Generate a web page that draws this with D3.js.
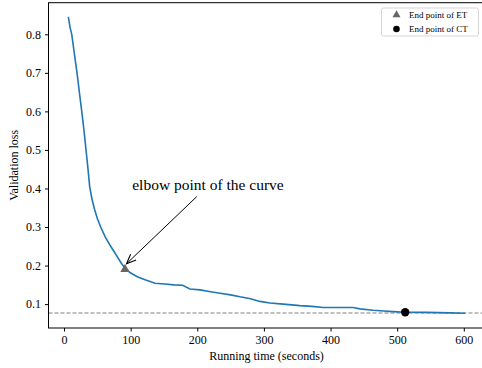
<!DOCTYPE html>
<html>
<head>
<meta charset="utf-8">
<script src="https://cdn.jsdelivr.net/npm/d3@7"></script>
<style>
  body { margin: 0; background: #fff; }
  svg { display: block; font-family: "Liberation Serif", "DejaVu Serif", serif; }
</style>
</head>
<body>
<div class="graph"></div>
<script>
// Data
var runTime = [6.5, 9, 11.6, 15.5, 19.5, 23, 26.6, 30, 33, 36, 38.5, 42, 46, 50, 55, 62, 70, 76, 81, 86, 91.5,
  99, 110, 121.6, 136.6, 151.6, 165, 178, 189, 204, 220, 234, 250, 264, 280, 294, 309, 329, 354,
  372, 389, 410, 434, 444, 464, 480, 494, 512, 544, 579, 602];
var valLoss = [0.845, 0.818, 0.800, 0.750, 0.700, 0.650, 0.600, 0.550, 0.500, 0.450, 0.405, 0.372, 0.345, 0.322, 0.300, 0.274, 0.250, 0.234, 0.220, 0.206, 0.193,
  0.182, 0.171, 0.163, 0.154, 0.152, 0.150, 0.149, 0.139, 0.137, 0.132, 0.128, 0.124, 0.119, 0.114, 0.107, 0.103, 0.100, 0.096,
  0.094, 0.091, 0.091, 0.091, 0.0876, 0.084, 0.082, 0.0806, 0.079, 0.0785, 0.0772, 0.0764];
var xTicks = [0, 100, 200, 300, 400, 500, 600];
var yTicks = [0.1, 0.2, 0.3, 0.4, 0.5, 0.6, 0.7, 0.8];
var etPoint = {t: 91.5, v: 0.193};
var ctPoint = {t: 512, v: 0.079};
var baseline = 0.0768;
var legendNames = ["End point of ET", "End point of CT"];
var annotationText = "elbow point of the curve";

graph();

function graph() {
  const W = 482, H = 368;
  const left = 48.5, right = 485, top = 2.7, bottom = 328;

  var svg = d3.select(".graph")
    .append("svg")
    .attr("width", W)
    .attr("height", H);

  var x = d3.scaleLinear().domain([-23.3, 631.8]).range([left, right]);
  var y = d3.scaleLinear().domain([0.038, 0.882]).range([bottom, top]);

  // axes
  svg.append("g")
    .attr("transform", "translate(0," + bottom + ")")
    .call(d3.axisBottom(x).tickValues(xTicks).tickSize(3.5).tickPadding(4).tickFormat(d3.format("d")))
    .call(g => g.select(".domain").remove())
    .selectAll("text").style("font-size", "12px").attr("fill", "#000")
    .style("font-family", "Liberation Serif");

  svg.append("g")
    .attr("transform", "translate(" + left + ",0)")
    .call(d3.axisLeft(y).tickValues(yTicks).tickSize(3.5).tickPadding(4).tickFormat(d3.format(".1f")))
    .call(g => g.select(".domain").remove())
    .selectAll("text").style("font-size", "12px").attr("fill", "#000")
    .style("font-family", "Liberation Serif");

  // dashed reference line
  svg.append("line")
    .attr("x1", left).attr("x2", right)
    .attr("y1", y(baseline)).attr("y2", y(baseline))
    .attr("stroke", "#808080").attr("stroke-width", 1.1)
    .attr("stroke-dasharray", "4,2");

  // loss curve
  var line = d3.line()
    .x((d, i) => x(runTime[i]))
    .y(d => y(d));
  svg.append("path")
    .datum(valLoss)
    .attr("d", line)
    .attr("fill", "none")
    .attr("stroke", "#1f77b4")
    .attr("stroke-width", 1.6);

  // markers
  var tri = d3.symbol().type(d3.symbolTriangle).size(38);
  svg.append("path")
    .attr("d", tri())
    .attr("transform", "translate(" + x(etPoint.t) + "," + (y(etPoint.v) + 1) + ")")
    .attr("fill", "#666");
  svg.append("circle")
    .attr("cx", x(ctPoint.t)).attr("cy", y(ctPoint.v))
    .attr("r", 4.2).attr("fill", "#000");

  // annotation with arrow
  svg.append("defs").append("marker")
    .attr("id", "head")
    .attr("viewBox", "0 0 10 10")
    .attr("refX", 9.5).attr("refY", 5)
    .attr("markerWidth", 10).attr("markerHeight", 10)
    .attr("markerUnits", "userSpaceOnUse")
    .attr("orient", "auto")
    .append("path")
    .attr("d", "M0,1 L9.5,5 L0,9")
    .attr("fill", "none").attr("stroke", "#000").attr("stroke-width", 1.1);

  svg.append("line")
    .attr("x1", 196.7).attr("y1", 196.7)
    .attr("x2", x(etPoint.t) + 1.5).attr("y2", y(etPoint.v) - 4.5)
    .attr("stroke", "#000").attr("stroke-width", 1)
    .attr("marker-end", "url(#head)");

  svg.append("text")
    .attr("x", 208).attr("y", 189.5)
    .attr("text-anchor", "middle")
    .style("font-size", "15.5px")
    .text(annotationText);

  // axis labels
  svg.append("text")
    .attr("x", 266.5).attr("y", 360)
    .attr("text-anchor", "middle")
    .style("font-size", "12px")
    .text("Running time (seconds)");
  svg.append("text")
    .attr("transform", "translate(18," + ((top + bottom) / 2) + ") rotate(-90)")
    .attr("text-anchor", "middle")
    .style("font-size", "12px")
    .text("Validation loss");

  // frame
  svg.append("rect")
    .attr("x", left).attr("y", top)
    .attr("width", right - left).attr("height", bottom - top)
    .attr("fill", "none").attr("stroke", "#000").attr("stroke-width", 1);

  // legend
  var lg = svg.append("g").attr("transform", "translate(381.5,8)");
  lg.append("rect")
    .attr("width", 97).attr("height", 28).attr("rx", 2)
    .attr("fill", "#fff").attr("stroke", "#ccc").attr("stroke-width", 0.8);
  var rows = lg.selectAll(".row").data(legendNames).enter()
    .append("g").attr("class", "row")
    .attr("transform", (d, i) => "translate(0," + (7 + i * 14) + ")");
  rows.append("path")
    .attr("d", (d, i) => i === 0 ? d3.symbol().type(d3.symbolTriangle).size(28)() : d3.symbol().type(d3.symbolCircle).size(34)())
    .attr("transform", "translate(15,0)")
    .attr("fill", (d, i) => i === 0 ? "#666" : "#000");
  rows.append("text")
    .attr("x", 27.5).attr("y", 3)
    .style("font-size", "9px")
    .text(d => d);
}
</script>
</body>
</html>
